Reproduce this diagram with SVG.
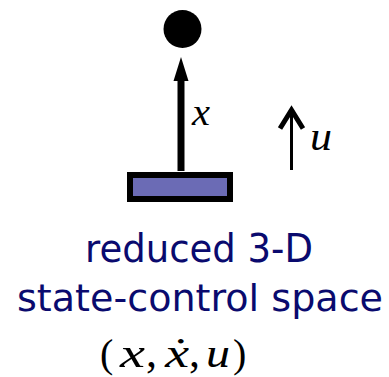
<svg xmlns="http://www.w3.org/2000/svg" width="389" height="377" viewBox="0 0 389 377">
<style>
.math{font-family:"Liberation Serif","Times New Roman",serif;font-style:italic;fill:#000}
.rm{font-family:"Liberation Serif","Times New Roman",serif;fill:#000}
.cap{font-family:"DejaVu Sans",Verdana,sans-serif;fill:#0a0a6e}
</style>
<rect width="389" height="377" fill="#fff"/>
<g id="mass"><circle cx="182.5" cy="29" r="19" fill="#000"/></g>
<g id="base"><rect x="130" y="175" width="100" height="24" fill="#6b6bb5" stroke="#000" stroke-width="6"/></g>
<g id="connectors">
<line x1="181" y1="171" x2="181" y2="78" stroke="#000" stroke-width="7"/>
<polygon points="181,57 173.5,81 188.5,81" fill="#000"/>
<line x1="291.5" y1="170" x2="291.5" y2="111" stroke="#000" stroke-width="3"/>
<polyline points="280,128.5 291.5,110 303,128.5" fill="none" stroke="#000" stroke-width="5"/>
</g>
<g id="labels">
<text class="math" x="192" y="124.5" font-size="37" textLength="18" lengthAdjust="spacingAndGlyphs">x</text>
<text class="math" x="310" y="150" font-size="39" textLength="22" lengthAdjust="spacingAndGlyphs">u</text>
<text class="cap" x="85" y="262" font-size="39" textLength="228" lengthAdjust="spacingAndGlyphs">reduced 3-D</text>
<text class="cap" x="17" y="311" font-size="38" textLength="366" lengthAdjust="spacingAndGlyphs">state-control space</text>
<text class="rm" x="100" y="367" font-size="40">(</text>
<text class="math" x="120" y="367" font-size="42" textLength="25" lengthAdjust="spacingAndGlyphs">x</text>
<text class="rm" x="146" y="367" font-size="44">,</text>
<text class="math" x="165" y="367" font-size="42" textLength="24" lengthAdjust="spacingAndGlyphs">ẋ</text>
<text class="rm" x="189" y="367" font-size="44">,</text>
<text class="math" x="206" y="367" font-size="42" textLength="24" lengthAdjust="spacingAndGlyphs">u</text>
<text class="rm" x="233" y="367" font-size="40">)</text>
</g>
</svg>
